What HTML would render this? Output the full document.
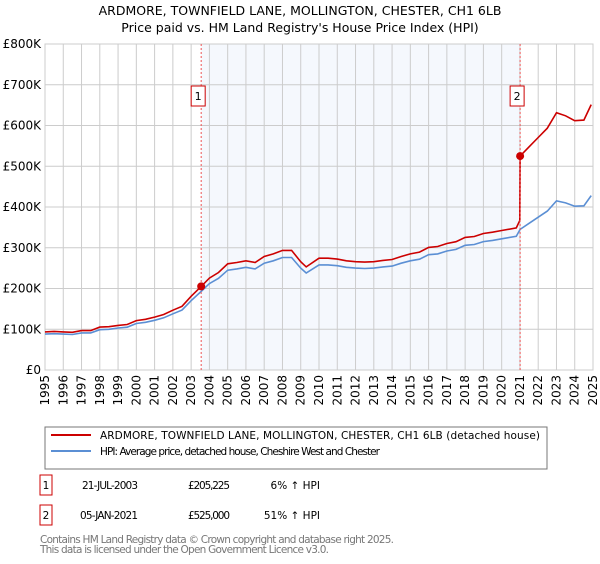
<!DOCTYPE html>
<html><head><meta charset="utf-8"><style>
body{margin:0;background:#fff;font-family:"DejaVu Sans","Liberation Sans",sans-serif;}
svg text{font-family:"DejaVu Sans","Liberation Sans",sans-serif;}
</style></head><body>
<svg id="c" width="600" height="560" xmlns="http://www.w3.org/2000/svg">
<text x="300" y="15" font-size="12.5" text-anchor="middle">ARDMORE, TOWNFIELD LANE, MOLLINGTON, CHESTER, CH1 6LB</text>
<text x="300" y="32" font-size="12.5" text-anchor="middle">Price paid vs. HM Land Registry's House Price Index (HPI)</text>
<g id="plot"></g>
<rect x="45" y="427" width="502" height="42" fill="#fff" stroke="#777"/>
<line x1="51" y1="435" x2="91" y2="435" stroke="#cc0000" stroke-width="2"/>
<text x="100" y="439" font-size="10.5" textLength="440">ARDMORE, TOWNFIELD LANE, MOLLINGTON, CHESTER, CH1 6LB (detached house)</text>
<line x1="51" y1="451" x2="91" y2="451" stroke="#5b8fd4" stroke-width="2"/>
<text x="100" y="455" font-size="10.5" textLength="280">HPI: Average price, detached house, Cheshire West and Chester</text>
<g font-size="10.5">
<rect x="40" y="475" width="12" height="20" fill="#fff" stroke="#cc0000"/><text x="46" y="489" text-anchor="middle">1</text>
<text x="82" y="489" textLength="56">21-JUL-2003</text><text x="188" y="489" textLength="42">£205,225</text><text x="320" y="489" text-anchor="end">6% ↑ HPI</text>
<rect x="40" y="505" width="12" height="20" fill="#fff" stroke="#cc0000"/><text x="46" y="519" text-anchor="middle">2</text>
<text x="80" y="519" textLength="58">05-JAN-2021</text><text x="188" y="519" textLength="42">£525,000</text><text x="320" y="519" text-anchor="end">51% ↑ HPI</text>
</g>
<text x="40" y="543" font-size="10.5" fill="#777" textLength="354">Contains HM Land Registry data © Crown copyright and database right 2025.</text>
<text x="40" y="553" font-size="10.5" fill="#777" textLength="289">This data is licensed under the Open Government Licence v3.0.</text>
</svg>
<script>
const hpiYears=[1995,1995.5,1996,1996.5,1997,1997.5,1998,1998.5,1999,1999.5,2000,2000.5,2001,2001.5,2002,2002.5,2003,2003.55,2004,2004.5,2005,2005.5,2006,2006.5,2007,2007.5,2008,2008.5,2009,2009.3,2010,2010.5,2011,2011.5,2012,2012.5,2013,2013.5,2014,2014.5,2015,2015.5,2016,2016.5,2017,2017.5,2018,2018.5,2019,2019.5,2020,2020.8,2021.01,2021.5,2022,2022.5,2023,2023.5,2024,2024.5,2024.9];
const hpiValues=[88000,89000,88000,87000,91000,91000,99000,100000,103000,105000,114000,117000,122000,128000,138000,147000,170000,193000,212000,225000,245000,248000,252000,248000,262000,268000,276000,276000,250000,238000,258000,258000,256000,252000,250000,249000,250000,253000,255000,262000,268000,272000,283000,285000,292000,296000,306000,308000,315000,318000,322000,328000,345000,360000,375000,390000,415000,410000,402000,403000,428000];
const saleYears=[2003.55,2021.01];
const salePrices=[205225,525000];
const yTicks=[0,100000,200000,300000,400000,500000,600000,700000,800000];
const yLabels=["£0","£100K","£200K","£300K","£400K","£500K","£600K","£700K","£800K"];
const xTicks=[1995,1996,1997,1998,1999,2000,2001,2002,2003,2004,2005,2006,2007,2008,2009,2010,2011,2012,2013,2014,2015,2016,2017,2018,2019,2020,2021,2022,2023,2024,2025];
const X0=45,X1=593,Y0=370,Y1=44;
const sx=t=>X0+(t-1995)/30*(X1-X0);
const sy=v=>Y0-v/800000*(Y0-Y1);
const NS="http://www.w3.org/2000/svg";
const g=document.getElementById('plot');
function mk(tag,a){const e=document.createElementNS(NS,tag);for(const k in a)e.setAttribute(k,a[k]);g.appendChild(e);return e;}
let sh=mk('rect',{x:sx(saleYears[0]),y:Y1,width:sx(saleYears[1])-sx(saleYears[0]),height:Y0-Y1,fill:'#eef3fc',opacity:0.6});


yTicks.forEach((v,i)=>{
 let l=mk('line',{x1:X0,x2:X1,y1:sy(v),y2:sy(v),stroke:'#ccc'});
 
 
 let t=mk('text',{x:X0-4,y:sy(v)+4,'font-size':12,'text-anchor':'end'});t.textContent=yLabels[i];
 
 
});
xTicks.forEach(y=>{
 let l=mk('line',{x1:sx(y),x2:sx(y),y1:Y1,y2:Y0,stroke:'#ccc'});
 
 
 let t=mk('text',{x:0,y:0,'font-size':12,'text-anchor':'end',transform:`translate(${sx(y)+4},${Y0+5}) rotate(-90)`});t.textContent=y;
 
 
});
let bd=mk('rect',{x:X0,y:Y1,width:X1-X0,height:Y0-Y1,fill:'none',stroke:'#ccc'});


function hpiAt(t){for(let i=0;i<hpiYears.length-1;i++){if(t<=hpiYears[i+1]){const f=(t-hpiYears[i])/(hpiYears[i+1]-hpiYears[i]);return hpiValues[i]+f*(hpiValues[i+1]-hpiValues[i]);}}return hpiValues[hpiValues.length-1];}
const r1=salePrices[0]/hpiAt(saleYears[0]),r2=salePrices[1]/hpiAt(saleYears[1]);
let bp=hpiYears.map((t,i)=>`${sx(t).toFixed(1)},${sy(hpiValues[i]).toFixed(1)}`).join(' ');
let bl=mk('polyline',{points:bp,fill:'none',stroke:'#5b8fd4','stroke-width':1.6});


let rp=[];
hpiYears.forEach((t,i)=>{
 if(t<saleYears[1]) rp.push([t,hpiValues[i]*r1]);
 else { if(t===saleYears[1]) rp.push([t-0.02,hpiValues[i]*r1]); rp.push([t,hpiValues[i]*r2]); }
});
let rl=mk('polyline',{points:rp.map(p=>`${sx(p[0]).toFixed(1)},${sy(p[1]).toFixed(1)}`).join(' '),fill:'none',stroke:'#cc0000','stroke-width':1.6});


saleYears.forEach((t,i)=>{
 let v=mk('line',{x1:sx(t),x2:sx(t),y1:Y1,y2:Y0,stroke:'#ee5555','stroke-dasharray':'2,2'});
 
 
 let c=mk('circle',{cx:sx(t),cy:sy(salePrices[i]),r:4,fill:'#cc0000'});
 
 
 let b=mk('rect',{x:sx(t)-10,y:86,width:14,height:20,fill:'#fff',stroke:'#cc0000'});
 
 
 let tx=mk('text',{x:sx(t)-3,y:100,'font-size':11,'text-anchor':'middle'});tx.textContent=String(i+1);
 
 
});
</script>
</body></html>
